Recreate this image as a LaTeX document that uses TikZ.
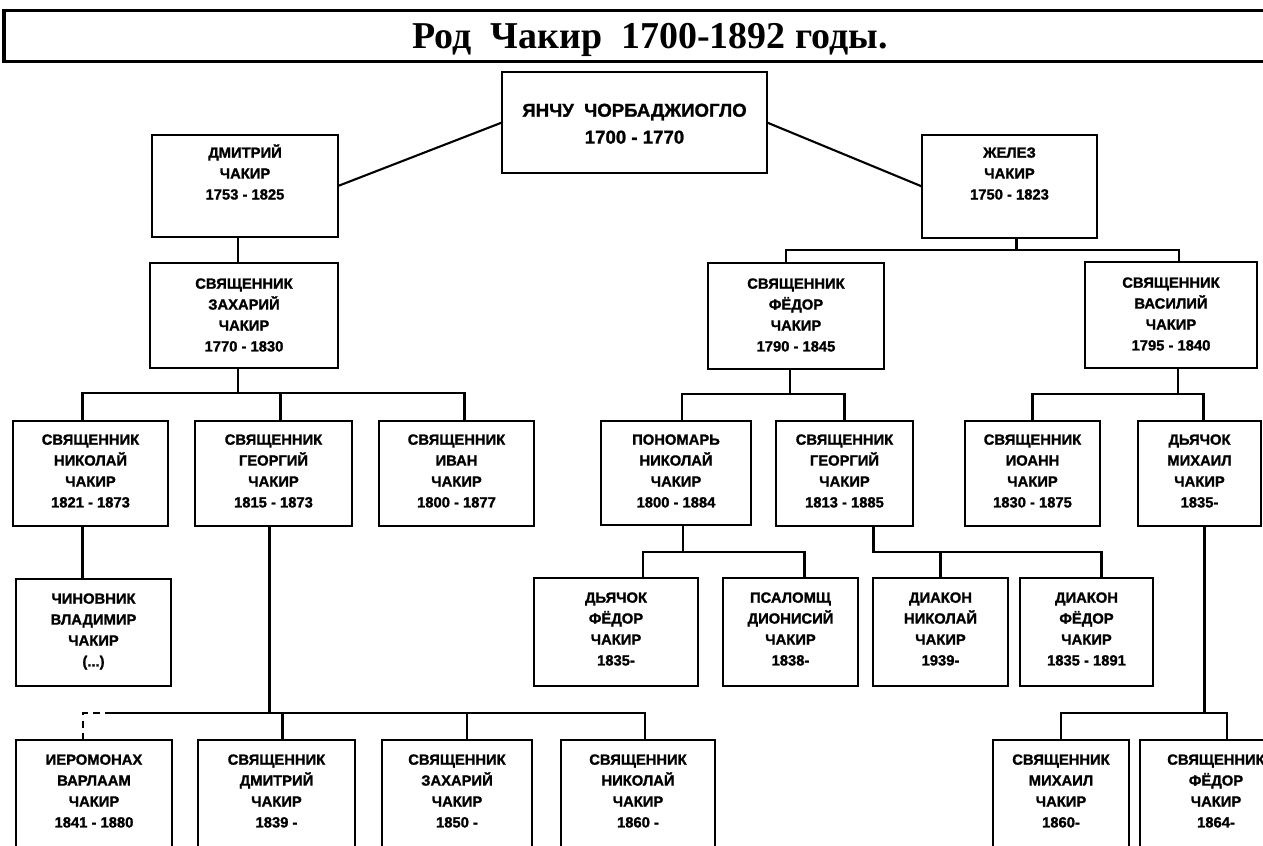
\documentclass[tikz,border=0pt]{standalone}
\usepackage{graphicx}
\usepackage{fontspec}
\setmainfont{Liberation Sans}
\newfontfamily\titlefont{Liberation Serif}
\newfontfamily\boxfont{Liberation Sans Bold}[UprightFeatures={FakeBold=1.3}]
\usetikzlibrary{calc}
\tikzset{
  pbox/.style={draw, line width=0.5mm, inner sep=0pt, outer sep=0pt},
  ptext/.style={font=\boxfont\fontsize{8.4}{11.9}\selectfont, align=center, inner sep=0pt, anchor=north},
  link/.style={line width=0.42mm},
}
% name, x1, y1, x2, y2, text offset, text
\newcommand\person[7]{%
  \node[pbox, minimum width={(#4-#2)*0.2mm}, minimum height={(#5-#3)*0.2mm}] (#1) at ({(#2+#4)/2},{(#3+#5)/2}) {};
  \node[ptext] (#1t) at ({(#2+#4)/2},{#3+#6}) {\vphantom{Й}#7};
}
\newcommand\childup[2]{\path ($(#1.north)+(#2,0)$) coordinate (#1up);}
\newcommand\parentdn[2]{\path ($(#1.south)+(#2,0)$) coordinate (#1dn);}
\begin{document}
\begin{tikzpicture}[x=0.2mm,y=-0.2mm]
\useasboundingbox (0,0) rectangle (1263,846);
\clip (0,0) rectangle (1263,846);
% title
\draw[line width=0.6mm] (1275,11) -- (4,11) -- (4,62) -- (1275,62);
\node (title) at (650,40) {\resizebox{95mm}{!}{\titlefont\bfseries Род\ \ Чакир\ \ 1700-1892 годы.}};

% generation 0-1
\person{top}{502}{72}{767}{173}{31}{\fontsize{10.6}{12}\selectfont ЯНЧУ\ \ ЧОРБАДЖИОГЛО\\[1.2mm]\fontsize{10.6}{12}\selectfont 1700 - 1770}
\person{dmi}{152}{135}{338}{237}{9}{ДМИТРИЙ\\ЧАКИР\\1753 - 1825}
\person{zhe}{922}{135}{1097}{238}{9}{ЖЕЛЕЗ\\ЧАКИР\\1750 - 1823}
% generation 2
\person{zak}{150}{263}{338}{368}{12}{СВЯЩЕННИК\\ЗАХАРИЙ\\ЧАКИР\\1770 - 1830}
\person{fyo}{708}{263}{884}{369}{12}{СВЯЩЕННИК\\ФЁДОР\\ЧАКИР\\1790 - 1845}
\person{vas}{1085}{262}{1257}{368}{12}{СВЯЩЕННИК\\ВАСИЛИЙ\\ЧАКИР\\1795 - 1840}
% generation 3
\person{nik}{13}{421}{168}{526}{10}{СВЯЩЕННИК\\НИКОЛАЙ\\ЧАКИР\\1821 - 1873}
\person{geo}{195}{421}{352}{526}{10}{СВЯЩЕННИК\\ГЕОРГИЙ\\ЧАКИР\\1815 - 1873}
\person{iva}{379}{421}{534}{526}{10}{СВЯЩЕННИК\\ИВАН\\ЧАКИР\\1800 - 1877}
\person{pon}{601}{421}{751}{525}{10}{ПОНОМАРЬ\\НИКОЛАЙ\\ЧАКИР\\1800 - 1884}
\person{geob}{776}{421}{913}{526}{10}{СВЯЩЕННИК\\ГЕОРГИЙ\\ЧАКИР\\1813 - 1885}
\person{ioa}{965}{421}{1100}{526}{10}{СВЯЩЕННИК\\ИОАНН\\ЧАКИР\\1830 - 1875}
\person{mik}{1138}{421}{1261}{526}{10}{ДЬЯЧОК\\МИХАИЛ\\ЧАКИР\\1835-}
% generation 4
\person{chi}{16}{579}{171}{686}{11}{ЧИНОВНИК\\ВЛАДИМИР\\ЧАКИР\\(...)}
\person{dfy}{534}{578}{698}{686}{11}{ДЬЯЧОК\\ФЁДОР\\ЧАКИР\\1835-}
\person{psa}{723}{578}{858}{686}{11}{ПСАЛОМЩ\\ДИОНИСИЙ\\ЧАКИР\\1838-}
\person{dnk}{873}{578}{1008}{686}{11}{ДИАКОН\\НИКОЛАЙ\\ЧАКИР\\1939-}
\person{dfd}{1020}{578}{1153}{686}{11}{ДИАКОН\\ФЁДОР\\ЧАКИР\\1835 - 1891}
% generation 5
\person{ier}{16}{740}{172}{870}{11}{ИЕРОМОНАХ\\ВАРЛААМ\\ЧАКИР\\1841 - 1880}
\person{dmb}{198}{740}{355}{870}{11}{СВЯЩЕННИК\\ДМИТРИЙ\\ЧАКИР\\1839 -}
\person{zab}{382}{740}{532}{870}{11}{СВЯЩЕННИК\\ЗАХАРИЙ\\ЧАКИР\\1850 -}
\person{nic}{561}{740}{715}{870}{11}{СВЯЩЕННИК\\НИКОЛАЙ\\ЧАКИР\\1860 -}
\person{mib}{993}{740}{1129}{870}{11}{СВЯЩЕННИК\\МИХАИЛ\\ЧАКИР\\1860-}
\person{feb}{1140}{740}{1292}{870}{11}{СВЯЩЕННИК\\ФЁДОР\\ЧАКИР\\1864-}

% connectors
\draw[link] (dmi.east) -- (top.west);
\draw[link] (top.east) -- (zhe.west);

\parentdn{dmi}{-7}
\draw[link] (dmidn) -- (dmidn |- zak.north);

\coordinate (bz) at (0,250);
\parentdn{zhe}{7}\childup{fyo}{-10}\childup{vas}{8}
\draw[link] (zhedn) -- (zhedn |- bz);
\draw[link] (fyoup) |- (vasup |- bz) -- (vasup);

\coordinate (bk) at (0,393);
\parentdn{zak}{-6}\childup{nik}{-8}\childup{geo}{7}\childup{iva}{8}
\draw[link] (zakdn) -- (zakdn |- bk);
\draw[link] (nikup) |- (ivaup |- bk) -- (ivaup);
\draw[link] (geoup) -- (geoup |- bk);

\parentdn{nik}{-8}
\draw[link] (nikdn) -- (nikdn |- chi.north);

\coordinate (bg) at (0,713);
\parentdn{geo}{-4}\childup{ier}{-11}\childup{dmb}{6}\childup{zab}{10}\childup{nic}{7}
\coordinate (bgdash) at ($(ierup |- bg)+(27,0)$);
\draw[link] (geodn) -- (geodn |- bg);
\draw[link, dash pattern=on 4pt off 3pt] (ierup) -- (ierup |- bg) -- (bgdash);
\draw[link] (bgdash) -- (nicup |- bg) -- (nicup);
\draw[link] (dmbup) -- (dmbup |- bg);
\draw[link] (zabup) -- (zabup |- bg);

\coordinate (bf) at (0,394);
\parentdn{fyo}{-6}\childup{pon}{6}\childup{geob}{0}
\draw[link] (fyodn) -- (fyodn |- bf);
\draw[link] (ponup) |- (geobup |- bf) -- (geobup);

\parentdn{vas}{7}\childup{ioa}{0}\childup{mik}{4}
\draw[link] (vasdn) -- (vasdn |- bf);
\draw[link] (ioaup) |- (mikup |- bf) -- (mikup);

\coordinate (bp) at (0,552);
\parentdn{pon}{7}\childup{dfy}{27}\childup{psa}{14}
\draw[link] (pondn) -- (pondn |- bp);
\draw[link] (dfyup) |- (psaup |- bp) -- (psaup);

\parentdn{geob}{29}\childup{dnk}{0}\childup{dfd}{15}
\draw[link] (geobdn) |- (dfdup |- bp) -- (dfdup);
\draw[link] (dnkup) -- (dnkup |- bp);

\parentdn{mik}{5}\childup{mib}{0}\childup{feb}{11}
\draw[link] (mikdn) -- (mikdn |- bg);
\draw[link] (mibup) |- (febup |- bg) -- (febup);
\end{tikzpicture}
\end{document}
